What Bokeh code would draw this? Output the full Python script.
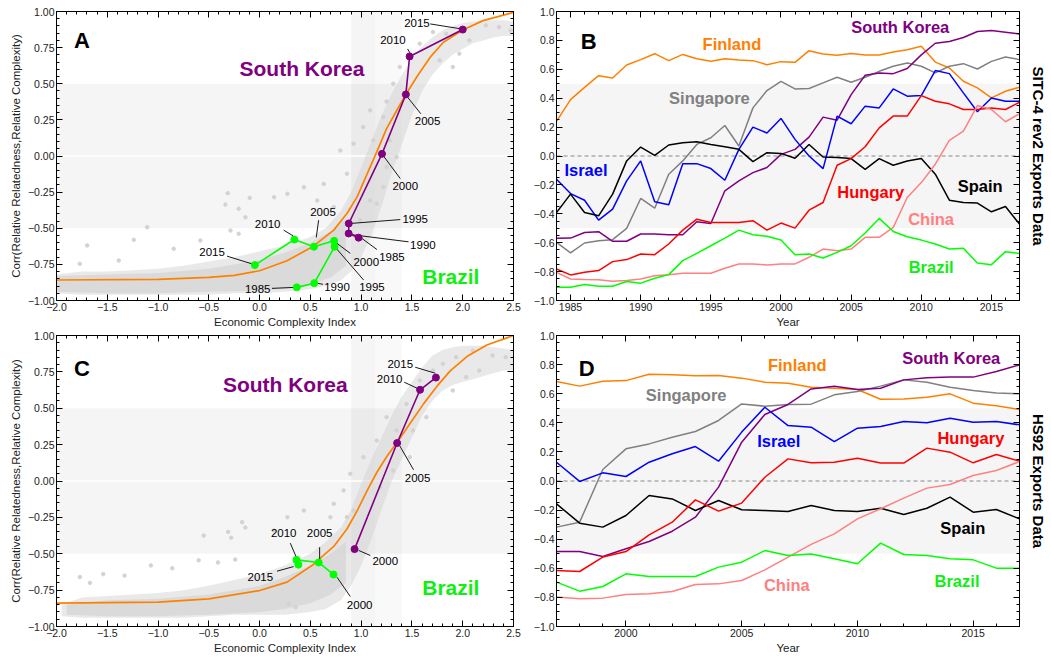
from bokeh.plotting import figure
from bokeh.models import (Range1d, SingleIntervalTicker, LinearAxis, BoxAnnotation, Span,
                          CustomJSTickFormatter)
from bokeh.layouts import row, column
from bokeh.embed import file_html
from bokeh.resources import INLINE
from bokeh.core.properties import value

FONT = "Liberation Sans"

# ---------------- data: SITC-4 rev2 (panel B) ----------------
years_sitc = list(range(1984, 2018))
sitc_finland = [0.24, 0.39, 0.475, 0.556, 0.54, 0.63, 0.667, 0.708, 0.66, 0.703,
                0.673, 0.655, 0.673, 0.664, 0.66, 0.632, 0.653, 0.648, 0.729, 0.706,
                0.697, 0.71, 0.699, 0.699, 0.72, 0.736, 0.759, 0.65, 0.609, 0.517,
                0.471, 0.402, 0.448, 0.476]
sitc_korea = [-0.57, -0.568, -0.529, -0.524, -0.59, -0.59, -0.54, -0.54, -0.545, -0.545,
              -0.455, -0.467, -0.241, -0.172, -0.115, -0.08, 0.011, 0.046, 0.131, 0.269,
              0.248, 0.425, 0.559, 0.575, 0.57, 0.605, 0.70, 0.78, 0.793, 0.82,
              0.862, 0.869, 0.857, 0.844]
sitc_singapore = [-0.598, -0.671, -0.602, -0.586, -0.579, -0.501, -0.294, -0.361, -0.126, -0.034,
                  0.08, 0.126, 0.211, 0.069, 0.333, 0.453, 0.517, 0.464, 0.467, 0.506,
                  0.545, 0.51, 0.545, 0.586, 0.621, 0.644, 0.621, 0.575, 0.621, 0.639,
                  0.602, 0.655, 0.685, 0.667]
sitc_israel = [-0.161, -0.26, -0.306, -0.444, -0.368, -0.172, -0.034, -0.317, -0.338, -0.053,
               -0.053, -0.087, -0.168, 0.046, 0.2, 0.159, 0.26, 0.115, 0.0, -0.087,
               0.276, 0.223, 0.345, 0.333, 0.464, 0.414, 0.418, 0.591, 0.57, 0.437,
               0.306, 0.402, 0.379, 0.379]
sitc_spain = [-0.391, -0.264, -0.391, -0.414, -0.264, -0.034, 0.062, 0.005, 0.076, 0.092,
              0.099, 0.08, 0.064, 0.046, -0.039, 0.023, 0.018, -0.016, 0.08, -0.007,
              -0.011, -0.018, -0.092, -0.018, -0.064, -0.034, -0.018, -0.126, -0.306, -0.322,
              -0.326, -0.386, -0.349, -0.471]
sitc_hungary = [-0.782, -0.823, -0.805, -0.793, -0.731, -0.717, -0.678, -0.683, -0.609, -0.513,
                -0.437, -0.46, -0.46, -0.46, -0.448, -0.513, -0.464, -0.499, -0.375, -0.322,
                -0.064, -0.018, 0.064, 0.195, 0.276, 0.276, 0.418, 0.379, 0.361, 0.322,
                0.322, 0.333, 0.322, 0.372]
sitc_china = [-0.805, -0.851, -0.855, -0.857, -0.867, -0.862, -0.851, -0.828, -0.821, -0.811,
              -0.811, -0.811, -0.777, -0.747, -0.747, -0.754, -0.747, -0.747, -0.701, -0.644,
              -0.655, -0.644, -0.563, -0.563, -0.494, -0.287, -0.184, -0.057, 0.108, 0.172,
              0.349, 0.322, 0.237, 0.292]
sitc_brazil = [-0.908, -0.908, -0.89, -0.901, -0.901, -0.869, -0.88, -0.846, -0.821, -0.724,
               -0.674, -0.621, -0.568, -0.513, -0.545, -0.556, -0.582, -0.683, -0.678, -0.706,
               -0.667, -0.621, -0.533, -0.432, -0.522, -0.559, -0.582, -0.609, -0.644, -0.639,
               -0.74, -0.752, -0.662, -0.674]

# ---------------- data: HS92 (panel D) ----------------
years_hs = list(range(1997, 2018))
hs_finland = [0.684, 0.652, 0.686, 0.69, 0.734, 0.73, 0.723, 0.725, 0.707, 0.679,
              0.672, 0.645, 0.638, 0.629, 0.562, 0.564, 0.576, 0.599, 0.535, 0.517, 0.491]
hs_korea = [-0.485, -0.485, -0.519, -0.466, -0.416, -0.345, -0.249, -0.042, 0.267, 0.457,
            0.526, 0.633, 0.652, 0.629, 0.638, 0.695, 0.709, 0.714, 0.714, 0.753, 0.798]
hs_singapore = [-0.317, -0.283, 0.079, 0.221, 0.255, 0.301, 0.34, 0.416, 0.53, 0.514,
                0.526, 0.528, 0.592, 0.615, 0.652, 0.695, 0.679, 0.645, 0.622, 0.604, 0.599]
hs_israel = [0.129, -0.003, 0.056, 0.031, 0.129, 0.187, 0.237, 0.136, 0.336, 0.507,
             0.381, 0.37, 0.271, 0.363, 0.375, 0.409, 0.4, 0.432, 0.404, 0.409, 0.386]
hs_hungary = [-0.615, -0.622, -0.523, -0.485, -0.37, -0.283, -0.13, -0.207, -0.152, 0.026,
              0.152, 0.125, 0.129, 0.157, 0.123, 0.123, 0.226, 0.198, 0.125, 0.182, 0.136]
hs_spain = [-0.157, -0.29, -0.317, -0.237, -0.1, -0.123, -0.203, -0.134, -0.198, -0.203,
            -0.21, -0.168, -0.203, -0.21, -0.187, -0.23, -0.187, -0.111, -0.214, -0.196, -0.26]
hs_china = [-0.798, -0.81, -0.805, -0.78, -0.775, -0.759, -0.711, -0.707, -0.684, -0.611,
            -0.523, -0.436, -0.363, -0.26, -0.191, -0.118, -0.049, -0.024, 0.038, 0.072, 0.134]
hs_brazil = [-0.695, -0.757, -0.725, -0.638, -0.656, -0.656, -0.656, -0.592, -0.558, -0.478,
             -0.512, -0.501, -0.535, -0.569, -0.427, -0.505, -0.512, -0.535, -0.542, -0.599, -0.599]

# ---------------- data: ECI vs correlation (panels A, C) ----------------
sk_sitc_years = [1985, 1990, 1995, 2000, 2005, 2010, 2015]
sk_sitc_eci = [0.975, 0.877, 0.878, 1.205, 1.44, 1.477, 2.0]
sk_sitc_corr = [-0.565, -0.536, -0.467, 0.015, 0.426, 0.689, 0.875]
br_sitc_years = [1985, 1990, 1995, 2000, 2005, 2010, 2015]
br_sitc_eci = [0.366, 0.538, 0.738, 0.734, 0.535, 0.342, -0.047]
br_sitc_corr = [-0.909, -0.88, -0.628, -0.587, -0.628, -0.578, -0.755]
sk_hs_years = [2000, 2005, 2010, 2015]
sk_hs_eci = [0.935, 1.354, 1.58, 1.736]
sk_hs_corr = [-0.468, 0.261, 0.627, 0.711]
br_hs_years = [2000, 2005, 2010, 2015]
br_hs_eci = [0.728, 0.582, 0.363, 0.382]
br_hs_corr = [-0.643, -0.56, -0.542, -0.575]

# fitted curves
fit_sitc_x = [-2.0, -1.0, -0.5, -0.25, 0.0, 0.27, 0.53, 0.73, 0.86, 0.96, 1.06, 1.16, 1.25,
              1.35, 1.44, 1.55, 1.68, 1.81, 2.0, 2.2, 2.5]
fit_sitc_y = [-0.858, -0.854, -0.84, -0.826, -0.794, -0.725, -0.624, -0.513, -0.398, -0.283,
              -0.122, 0.039, 0.189, 0.315, 0.426, 0.55, 0.684, 0.787, 0.872, 0.937, 0.994]
fit_hs_x = [-2.0, -1.0, -0.5, 0.0, 0.27, 0.515, 0.73, 0.86, 0.96, 1.06, 1.155, 1.254, 1.358,
            1.483, 1.614, 1.745, 1.877, 2.041, 2.237, 2.5]
fit_hs_y = [-0.84, -0.833, -0.81, -0.753, -0.695, -0.581, -0.45, -0.33, -0.205, -0.065, 0.06,
            0.17, 0.27, 0.397, 0.53, 0.65, 0.757, 0.855, 0.935, 1.0]

# country clouds: envelopes and scattered points
sitc_cloud_x = [-2.0, -1.75, -1.5, -1.25, -1.0, -0.75, -0.5, -0.25, 0.0, 0.25, 0.5, 0.65, 0.8, 0.9,
                1.0, 1.1, 1.2, 1.3, 1.4, 1.5, 1.6, 1.7, 1.8, 1.9, 2.0, 2.1, 2.2, 2.3, 2.4, 2.5]
sitc_cloud_lo = [-0.95, -0.96, -0.96, -0.96, -0.96, -0.96, -0.96, -0.95, -0.95, -0.94, -0.92, -0.90,
                 -0.86, -0.80, -0.70, -0.55, -0.35, -0.12, 0.08, 0.28, 0.45, 0.56, 0.64, 0.70, 0.74,
                 0.78, 0.80, 0.82, 0.83, 0.83]
sitc_cloud_hi = [-0.82, -0.80, -0.80, -0.79, -0.78, -0.76, -0.73, -0.70, -0.66, -0.62, -0.56, -0.50,
                 -0.38, -0.25, -0.08, 0.10, 0.28, 0.43, 0.56, 0.67, 0.76, 0.82, 0.87, 0.90, 0.92,
                 0.93, 0.94, 0.94, 0.94, 0.93]
sitc_core_x = [-2.0, -1.5, -1.0, -0.5, 0.0, 0.25, 0.5, 0.7, 0.85]
sitc_core_lo = [-0.94, -0.95, -0.95, -0.94, -0.93, -0.92, -0.89, -0.84, -0.76]
sitc_core_hi = [-0.83, -0.82, -0.81, -0.78, -0.72, -0.67, -0.60, -0.52, -0.44]
sitc_pts_x = [-0.314, -0.337, -0.097, -1.107, -1.239, -0.206, -0.14, -0.206, -0.287, -1.698, -1.771,
              -1.387, -0.846, -0.583, 1.25, 1.02, 0.925, 0.86, 0.795, 0.632, 0.567, 0.436, 0.274,
              0.143, 0.73, 1.088, 1.316, 1.38, 1.479, 1.577, 1.707, 1.837, 1.902, 1.967, 2.065,
              2.228, 2.358, 2.472, 1.772, 1.218, 1.12, 1.283, 1.349, 1.251, 1.218, 1.153, 0.99, 1.088]
sitc_pts_y = [-0.257, -0.336, -0.29, -0.493, -0.58, -0.365, -0.424, -0.538, -0.516, -0.619, -0.746,
              -0.723, -0.642, -0.585, 0.377, 0.2, 0.085, -0.123, 0.038, -0.193, -0.308, -0.216, -0.262,
              -0.285, -0.354, 0.316, 0.5, 0.616, 0.685, 0.777, 0.858, 0.846, 0.616, 0.708, 0.8,
              0.904, 0.892, 0.869, 0.662, 0.27, 0.108, 0.108, -0.007, -0.076, -0.214, -0.33, -0.445, -0.307]

hs_cloud_x = [-1.95, -1.75, -1.5, -1.25, -1.0, -0.75, -0.5, -0.25, 0.0, 0.25, 0.5, 0.65, 0.8, 0.9,
              1.0, 1.1, 1.2, 1.3, 1.4, 1.5, 1.6, 1.7, 1.8, 1.9, 2.0, 2.1, 2.2, 2.3, 2.4, 2.5]
hs_cloud_lo = [-0.93, -0.94, -0.94, -0.94, -0.94, -0.94, -0.93, -0.92, -0.92, -0.92, -0.90, -0.88,
               -0.82, -0.72, -0.58, -0.40, -0.20, 0.00, 0.15, 0.30, 0.45, 0.55, 0.62, 0.66, 0.68,
               0.70, 0.72, 0.74, 0.76, 0.76]
hs_cloud_hi = [-0.85, -0.80, -0.79, -0.78, -0.77, -0.75, -0.72, -0.68, -0.64, -0.58, -0.50, -0.42,
               -0.32, -0.20, -0.02, 0.15, 0.30, 0.45, 0.58, 0.68, 0.78, 0.86, 0.90, 0.92, 0.93,
               0.93, 0.93, 0.92, 0.91, 0.90]
hs_core_x = [-1.9, -1.5, -1.0, -0.5, 0.0, 0.25, 0.5, 0.7, 0.85]
hs_core_lo = [-0.92, -0.93, -0.93, -0.92, -0.90, -0.88, -0.84, -0.78, -0.70]
hs_core_hi = [-0.85, -0.82, -0.81, -0.78, -0.72, -0.66, -0.58, -0.50, -0.42]
hs_pts_x = [-0.172, -0.14, -0.55, -0.31, -0.28, -0.60, -1.07, -0.86, -1.77, -1.54, -1.33, -0.41,
            -0.24, -1.67, 1.349, 1.25, 1.153, 1.023, 0.893, 0.827, 0.73, 0.697, 0.86, 0.925, 1.446,
            1.577, 1.707, 1.805, 1.935, 2.098, 2.293, 2.423, 2.033, 2.163, 1.902, 1.642, 1.511,
            1.479, 1.316, 1.186, 0.274, 0.436, 0.143, 0.29, 0.355]
hs_pts_y = [-0.283, -0.32, -0.375, -0.35, -0.39, -0.545, -0.58, -0.60, -0.66, -0.64, -0.65, -0.56,
            -0.54, -0.70, 0.347, 0.439, 0.278, 0.164, 0.049, -0.065, -0.157, -0.249, -0.249, -0.203,
            0.53, 0.691, 0.759, 0.805, 0.851, 0.897, 0.863, 0.851, 0.714, 0.759, 0.622, 0.439,
            0.347, 0.164, 0.072, -0.042, -0.249, -0.203, -0.34, -0.844, -0.867]

# ---------------- annotation placement (layout, not data) ----------------
ann_sk_sitc = dict(tx=[1.303, 1.608, 1.532, 1.434, 1.654, 1.313, 1.549],
                   ty=[-0.697, -0.617, -0.433, -0.207, 0.242, 0.806, 0.921],
                   x0=[1.008, 0.893, 0.893, 1.227, 1.457, 1.457, 1.68],
                   y0=[-0.571, -0.543, -0.467, -0.007, 0.407, 0.741, 0.914],
                   x1=[1.155, 1.467, 1.385, 1.385, 1.588, 1.486, 1.991],
                   y1=[-0.647, -0.594, -0.44, -0.156, 0.292, 0.707, 0.879])
ann_br_sitc = dict(tx=[-0.019, 0.762, 1.106, 1.05, 0.624, 0.079, -0.468],
                   ty=[-0.923, -0.909, -0.909, -0.736, -0.387, -0.472, -0.663],
                   x0=[0.122, 0.571, 0.755, 0.755, 0.581, 0.237, -0.321],
                   y0=[-0.916, -0.881, -0.64, -0.601, -0.444, -0.513, -0.693],
                   x1=[0.352, 0.624, 1.024, 0.893, 0.558, 0.329, -0.068],
                   y1=[-0.909, -0.888, -0.858, -0.674, -0.564, -0.552, -0.748])
ann_sk_hs = dict(tx=[1.237, 1.555, 1.28, 1.385], ty=[-0.551, 0.019, 0.702, 0.803],
                 x0=[0.975, 1.378, 1.424, 1.532], y0=[-0.477, 0.244, 0.679, 0.782],
                 x1=[1.09, 1.516, 1.565, 1.729], y1=[-0.512, 0.077, 0.633, 0.741])
ann_br_hs = dict(tx=[0.985, 0.591, 0.237, 0.007], ty=[-0.849, -0.359, -0.359, -0.657],
                 x0=[0.762, 0.591, 0.302, 0.171], y0=[-0.661, -0.455, -0.427, -0.62],
                 x1=[0.893, 0.591, 0.361, 0.335], y1=[-0.794, -0.542, -0.523, -0.588])

PURPLE = "#800080"
GREEN = "#00ff00"
GREEN_TXT = "#11ee11"
ORANGE = "#ff8000"
COLORS = {"Finland": ORANGE, "Singapore": "#808080", "South Korea": PURPLE, "Israel": "#0000ff",
          "Spain": "#000000", "Hungary": "#ff0000", "China": "#ff8080", "Brazil": GREEN}
TXT_COLORS = dict(COLORS, Brazil=GREEN_TXT)


def fmt(dec):
    return CustomJSTickFormatter(code=f"""
        const v = Math.abs(tick) < 1e-9 ? 0 : tick;
        const s = Math.abs(v).toFixed({dec});
        return (v < 0 ? '\\u2212' : '') + s;
    """)


def style_axis(ax, interval, nminor, dec, labels=True):
    ax.ticker = SingleIntervalTicker(interval=interval, num_minor_ticks=nminor)
    ax.formatter = fmt(dec)
    ax.major_tick_in = 6
    ax.major_tick_out = 0
    ax.minor_tick_in = 3
    ax.minor_tick_out = 0
    ax.axis_line_color = "black"
    ax.major_tick_line_color = "black"
    ax.minor_tick_line_color = "black"
    ax.major_label_text_font = FONT
    ax.axis_label_text_font = FONT
    ax.axis_label_text_font_style = "normal"
    ax.axis_label_text_font_size = "11.5px"
    ax.axis_label_text_color = "#222222"
    if labels:
        ax.major_label_text_color = "#222222"
        ax.major_label_text_font_size = "10.5px"
        ax.major_label_standoff = 2
    else:
        # mirrored frame ticks only: tick labels are not drawn
        ax.major_label_text_color = None
        ax.major_label_text_font_size = "1px"
        ax.major_label_standoff = 0


def make_fig(xr, yr, w, h, bl, br, bt, bb, xint, xminor, xdec, yint, yminor, ydec,
             xlabel, ylabel, rlabel):
    p = figure(width=w, height=h, x_range=Range1d(*xr), y_range=Range1d(*yr),
               output_backend="svg", toolbar_location=None,
               x_axis_location=None, y_axis_location=None,
               min_border_left=bl, min_border_right=br, min_border_top=bt, min_border_bottom=bb)
    for g in p.grid:
        g.visible = False
    p.outline_line_color = "black"
    p.outline_line_alpha = 1
    bottom, left, top, right = LinearAxis(), LinearAxis(), LinearAxis(), LinearAxis()
    style_axis(bottom, xint, xminor, xdec, True)
    style_axis(top, xint, xminor, xdec, False)
    style_axis(left, yint, yminor, ydec, True)
    style_axis(right, yint, yminor, ydec, False)
    bottom.axis_label = xlabel
    bottom.axis_label_standoff = 2
    if ylabel:
        left.axis_label = ylabel
        left.axis_label_standoff = 3
    if rlabel:
        right.axis_label = rlabel
        right.axis_label_standoff = 10
        right.axis_label_text_font_style = "bold"
        right.axis_label_text_font_size = "15px"
        right.axis_label_text_color = "black"
    p.add_layout(bottom, "below")
    p.add_layout(left, "left")
    p.add_layout(top, "above")
    p.add_layout(right, "right")
    p.add_layout(BoxAnnotation(bottom=-0.5, top=0.5, fill_color="black", fill_alpha=0.04,
                               line_color=None, level="underlay"))
    return p


def add_text(p, xs, ys, texts, size, color="black", bold=False):
    p.text(x=xs, y=ys, text=texts, text_font=value(FONT), text_font_size=size,
           text_color=color, text_align="center", text_baseline="middle",
           text_font_style="bold" if bold else "normal")


def eci_panel(w, h, bt, bb, letter, letter_y, cloud, core, pts, fit, sk, br, ann_sk, ann_br,
              sk_lab, br_lab):
    p = make_fig((-2.0, 2.5), (-1.0, 1.0), w, h, 56, 17, bt, bb, 0.5, 5, 1, 0.25, 5, 2,
                 "Economic Complexity Index", "Corr(Relative Relatedness,Relative Complexity)", None)
    p.add_layout(BoxAnnotation(left=0.9, right=1.4, fill_color="black", fill_alpha=0.022,
                               line_color=None, level="underlay"))
    p.add_layout(BoxAnnotation(left=0.9, right=1.14, fill_color="black", fill_alpha=0.014,
                               line_color=None, level="underlay"))
    p.add_layout(Span(location=0, dimension="width", line_color="white", line_width=1.5,
                      level="underlay"))
    p.varea(x=cloud[0], y1=cloud[1], y2=cloud[2], fill_color="#d3d3d3", fill_alpha=0.5)
    p.varea(x=core[0], y1=core[1], y2=core[2], fill_color="#d3d3d3", fill_alpha=0.65)
    p.scatter(pts[0], pts[1], size=3.5, color="#d3d3d3")
    p.line(fit[0], fit[1], line_color=ORANGE, line_width=1.7)
    # leader lines
    for ann in (ann_sk, ann_br):
        p.segment(x0=ann["x0"], y0=ann["y0"], x1=ann["x1"], y1=ann["y1"],
                  line_color="black", line_width=0.9)
    for (xs, ys, yrs), ann, col in ((sk, ann_sk, PURPLE), (br, ann_br, GREEN)):
        p.line(xs, ys, line_color=col, line_width=1.6)
        p.scatter(xs, ys, size=7, color=col)
        add_text(p, ann["tx"], ann["ty"], [str(y) for y in yrs], "11.5px")
    add_text(p, [-1.75], [letter_y], [letter], "22px", bold=True)
    add_text(p, [sk_lab[0]], [sk_lab[1]], ["South Korea"], "21px", PURPLE, bold=True)
    add_text(p, [br_lab[0]], [br_lab[1]], ["Brazil"], "21px", GREEN_TXT, bold=True)
    return p


def ts_panel(w, h, bt, bb, xr, years, series, labels, letter, letter_pos, rlabel):
    p = make_fig(xr, (-1.0, 1.0), w, h, 26, 31, bt, bb, 5, 5, 0, 0.2, 4, 1,
                 "Year", None, rlabel)
    p.add_layout(Span(location=0, dimension="width", line_color="#888888", line_width=1,
                      line_dash="4 3", level="underlay"))
    for name, ys in series:
        p.line(years, ys, line_color=COLORS[name], line_width=1.5)
    for name, (lx, ly) in labels.items():
        add_text(p, [lx], [ly], [name], "16.5px", TXT_COLORS[name], bold=True)
    add_text(p, [letter_pos[0]], [letter_pos[1]], [letter], "22px", bold=True)
    return p


ROW1_H, ROW2_H = 330, 330

pA = eci_panel(530, ROW1_H, 11, 30, "A", 0.80,
               (sitc_cloud_x, sitc_cloud_lo, sitc_cloud_hi),
               (sitc_core_x, sitc_core_lo, sitc_core_hi),
               (sitc_pts_x, sitc_pts_y), (fit_sitc_x, fit_sitc_y),
               (sk_sitc_eci, sk_sitc_corr, sk_sitc_years),
               (br_sitc_eci, br_sitc_corr, br_sitc_years),
               ann_sk_sitc, ann_br_sitc, (0.417, 0.603), (1.883, -0.831))

pC = eci_panel(530, ROW2_H, 5, 34, "C", 0.77,
               (hs_cloud_x, hs_cloud_lo, hs_cloud_hi),
               (hs_core_x, hs_core_lo, hs_core_hi),
               (hs_pts_x, hs_pts_y), (fit_hs_x, fit_hs_y),
               (sk_hs_eci, sk_hs_corr, sk_hs_years),
               (br_hs_eci, br_hs_corr, br_hs_years),
               ann_sk_hs, ann_br_hs, (0.253, 0.663), (1.883, -0.73))

sitc_series = [("Finland", sitc_finland), ("Singapore", sitc_singapore), ("South Korea", sitc_korea),
               ("Israel", sitc_israel), ("Spain", sitc_spain), ("Hungary", sitc_hungary),
               ("China", sitc_china), ("Brazil", sitc_brazil)]
hs_series = [("Finland", hs_finland), ("Singapore", hs_singapore), ("South Korea", hs_korea),
             ("Israel", hs_israel), ("Spain", hs_spain), ("Hungary", hs_hungary),
             ("China", hs_china), ("Brazil", hs_brazil)]

sitc_labels = {"Finland": (1996.5, 0.775), "South Korea": (2008.5, 0.89), "Singapore": (1994.9, 0.40),
               "Israel": (1986.1, -0.099), "Hungary": (2006.4, -0.246), "Spain": (2014.2, -0.207),
               "China": (2010.7, -0.437), "Brazil": (2010.7, -0.77)}
hs_labels = {"Finland": (2007.4, 0.794), "South Korea": (2014.05, 0.846), "Singapore": (2002.6, 0.588),
             "Israel": (2006.6, 0.274), "Hungary": (2014.9, 0.297), "Spain": (2014.55, -0.322),
             "China": (2006.95, -0.718), "Brazil": (2014.3, -0.684)}

pB = ts_panel(520, ROW1_H, 10, 30, (1984, 2017), years_sitc, sitc_series, sitc_labels,
              "B", (1986.3, 0.79), "SITC-4 rev2 Exports Data")
pD = ts_panel(520, ROW2_H, 5, 34, (1997, 2017), years_hs, hs_series, hs_labels,
              "D", (1998.3, 0.77), "HS92 Exports Data")

layout = column(row(pA, pB), row(pC, pD))
open("out.html", "w").write(file_html(layout, INLINE))
